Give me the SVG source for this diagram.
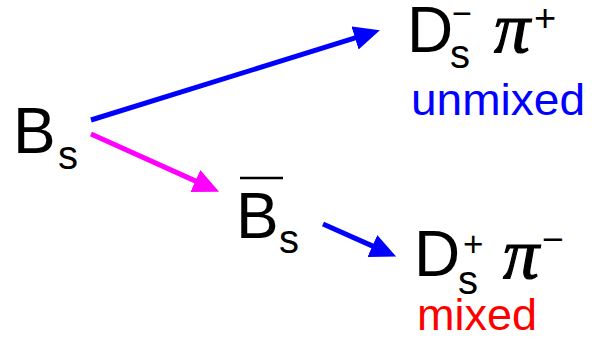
<svg xmlns="http://www.w3.org/2000/svg" width="592" height="341" viewBox="0 0 592 341">
<style>
.t{font-family:"Liberation Sans",Arial,sans-serif;fill:#000}
.big{font-size:64px}
.sub{font-size:40px}
.pi{font-family:"Liberation Serif","Times New Roman",serif;font-style:italic;font-size:72px;fill:#000;stroke:#000;stroke-width:1.2}
.lbl{font-family:"Liberation Sans",Arial,sans-serif;font-size:45px}
.c{fill:none;stroke-width:5}
</style>
<defs>
<marker id="hb" markerUnits="userSpaceOnUse" viewBox="0 0 26 24" refX="1" refY="12" markerWidth="26" markerHeight="24" orient="auto"><path d="M0,0 L26,12 L0,24 z" fill="#0000ff"/></marker>
<marker id="hm" markerUnits="userSpaceOnUse" viewBox="0 0 26 24" refX="1" refY="12" markerWidth="26" markerHeight="24" orient="auto"><path d="M0,0 L26,12 L0,24 z" fill="#ff00ff"/></marker>
</defs>
<g id="connectors">
<line class="c" x1="91" y1="120" x2="356" y2="37.7" stroke="#0000ff" marker-end="url(#hb)"/>
<line class="c" x1="91" y1="134" x2="196.3" y2="181.4" stroke="#ff00ff" marker-end="url(#hm)"/>
<line class="c" x1="323" y1="224" x2="373.3" y2="246.4" stroke="#0000ff" marker-end="url(#hb)"/>
</g>
<g id="Bs">
<text class="t big" x="13" y="153">B</text>
<text class="t sub" x="58" y="169">s</text>
</g>
<g id="Bsbar">
<line x1="240" y1="178" x2="283" y2="178" stroke="#000" stroke-width="2.5"/>
<text class="t big" x="236" y="238">B</text>
<text class="t sub" x="279" y="253">s</text>
</g>
<g id="Dsminus">
<text class="t big" x="407" y="52">D</text>
<text class="t sub" x="450" y="68">s</text>
<text class="t" x="452" y="24.5" font-size="34" textLength="20" lengthAdjust="spacingAndGlyphs">−</text>
<text class="pi" x="494" y="52">π</text>
<text class="t" x="534" y="30.5" font-size="38">+</text>
<text class="lbl" x="411" y="115" fill="#0000ff" textLength="174" lengthAdjust="spacingAndGlyphs">unmixed</text>
</g>
<g id="Dsplus">
<text class="t big" x="414" y="276">D</text>
<text class="t sub" x="458" y="294">s</text>
<text class="t" x="463" y="256" font-size="35">+</text>
<text class="pi" x="503" y="278">π</text>
<text class="t" x="542" y="250.5" font-size="34" textLength="22" lengthAdjust="spacingAndGlyphs">−</text>
<text class="lbl" x="417" y="330" fill="#ff0000">mixed</text>
</g>
</svg>
